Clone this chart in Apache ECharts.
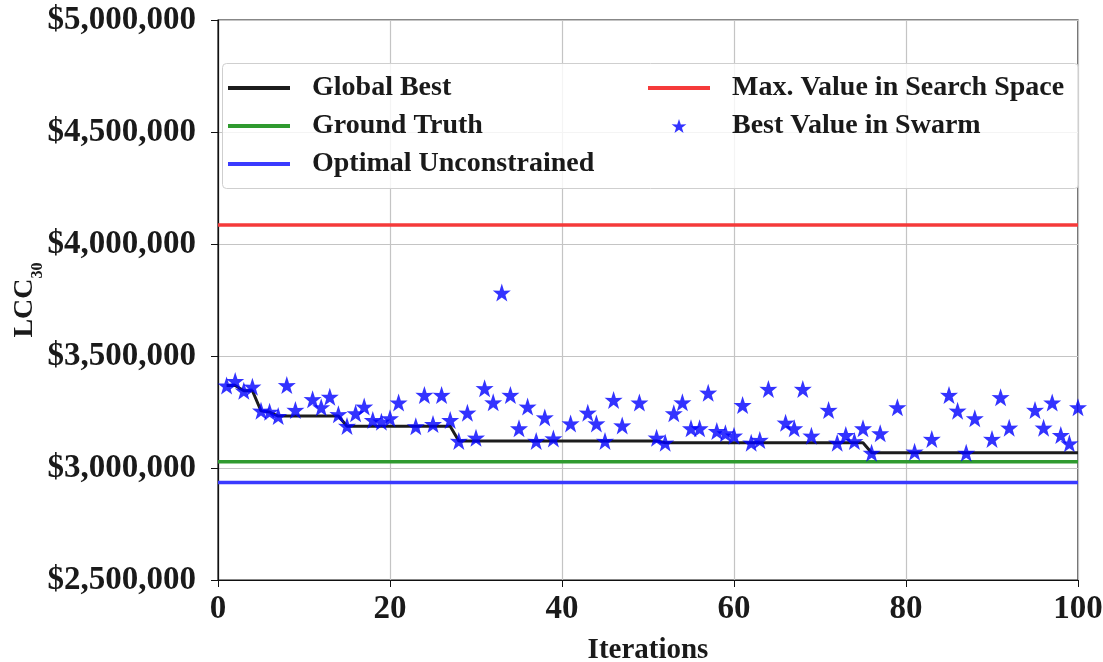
<!DOCTYPE html>
<html>
<head>
<meta charset="utf-8">
<script src="https://cdn.jsdelivr.net/npm/echarts@6/dist/echarts.min.js"></script>
<style>
  html, body { margin: 0; padding: 0; background: #fff; }
  #chart { width: 1103px; height: 662px; }
</style>
</head>
<body>
<div id="chart"></div>
<script>
// Iteration index 1..100
const iterations = Array.from({ length: 100 }, (_, k) => k + 1);

// Global best LCC after each iteration (step-down curve)
const globalBest = [
  3368000, 3368000, 3345000, 3345000, 3255000, 3250000, 3232000, 3232000, 3232000, 3232000,
  3232000, 3232000, 3232000, 3232000, 3186000, 3186000, 3186000, 3186000, 3186000, 3186000,
  3186000, 3186000, 3186000, 3186000, 3186000, 3186000, 3186000, 3121000, 3121000, 3121000,
  3121000, 3121000, 3121000, 3121000, 3121000, 3121000, 3121000, 3121000, 3121000, 3121000,
  3121000, 3121000, 3121000, 3121000, 3121000, 3121000, 3121000, 3121000, 3121000, 3121000,
  3121000, 3113000, 3113000, 3113000, 3113000, 3113000, 3113000, 3113000, 3113000, 3113000,
  3113000, 3113000, 3113000, 3113000, 3113000, 3113000, 3113000, 3113000, 3113000, 3113000,
  3113000, 3113000, 3113000, 3113000, 3113000, 3068000, 3068000, 3068000, 3068000, 3068000,
  3068000, 3068000, 3068000, 3068000, 3068000, 3068000, 3068000, 3068000, 3068000, 3068000,
  3068000, 3068000, 3068000, 3068000, 3068000, 3068000, 3068000, 3068000, 3068000, 3068000
];

// Best value found by the swarm at a given iteration
const swarmIter = [
  1, 2, 3, 4, 5, 6, 7, 8, 9, 11, 12, 13, 14, 15, 16, 17, 18, 19, 20, 21,
  23, 24, 25, 26, 27, 28, 29, 30, 31, 32, 33, 34, 35, 36, 37, 38, 39, 41, 43, 44,
  45, 46, 47, 49, 51, 52, 53, 54, 55, 56, 57, 58, 59, 60, 61, 62, 63, 64, 66, 67,
  68, 69, 71, 72, 73, 74, 75, 76, 77, 79, 81, 83, 85, 86, 87, 88, 90, 91, 92, 95,
  96, 97, 98, 99, 100
];
const swarmBest = [
  3368000, 3388000, 3345000, 3363000, 3256000, 3251000, 3232000, 3370000, 3259000, 3307000,
  3271000, 3318000, 3240000, 3188000, 3244000, 3274000, 3214000, 3207000, 3222000, 3292000,
  3186000, 3326000, 3196000, 3326000, 3214000, 3121000, 3247000, 3135000, 3356000, 3293000,
  3783000, 3326000, 3177000, 3274000, 3121000, 3226000, 3132000, 3199000, 3247000, 3199000,
  3121000, 3304000, 3190000, 3292000, 3135000, 3113000, 3244000, 3293000, 3177000, 3177000,
  3336000, 3165000, 3155000, 3144000, 3281000, 3113000, 3125000, 3353000, 3202000, 3177000,
  3353000, 3144000, 3259000, 3113000, 3147000, 3120000, 3177000, 3068000, 3155000, 3271000,
  3073000, 3130000, 3326000, 3256000, 3068000, 3222000, 3130000, 3316000, 3180000, 3259000,
  3180000, 3292000, 3147000, 3110000, 3271000
];

// Reference levels
const groundTruth = 3028000;
const optimalUnconstrained = 2935000;
const maxSearchSpace = 4085000;
const xSpan = [0, 100];

const xTicks = [0, 20, 40, 60, 80, 100];
const yTicks = [2500000, 3000000, 3500000, 4000000, 4500000, 5000000];

const serif = '"Liberation Serif", "Times New Roman", serif';
const starPath = 'path://M50,0 L61.8,35.3 L97.6,34.5 L69,56.7 L79.4,90.5 L50,70 L20.6,90.5 L31,56.7 L2.4,34.5 L38.2,35.3 Z';
const linePath = 'path://M0,0 L60,0 L60,4 L0,4 Z';

const chart = echarts.init(document.getElementById('chart'), null, { renderer: 'canvas' });

const flat = v => xSpan.map(x => [x, v]);

const legendText = {
  fontFamily: serif, fontWeight: 'bold', fontSize: 28, color: '#1a1a1a',
  lineHeight: 28, padding: [0, 0, 0, 17]
};

chart.setOption({
  animation: false,
  backgroundColor: '#fff',
  grid: {
    left: 218, right: 25, top: 20, bottom: 82,
    outerBoundsMode: 'none', containLabel: false,
    show: true, borderColor: '#111', borderWidth: 1.2, backgroundColor: 'transparent'
  },
  graphic: [{
    type: 'rect', left: 222, top: 63, z: 90,
    shape: { width: 856, height: 125, r: 4 },
    style: { fill: 'rgba(255,255,255,0.82)', stroke: '#cfcfcf', lineWidth: 1 }
  }],
  legend: [{
    left: 223, top: 69, orient: 'vertical', itemGap: 10, z: 100,
    itemWidth: 62, itemHeight: 14,
    textStyle: legendText,
    data: [
      { name: 'Global Best', icon: linePath },
      { name: 'Ground Truth', icon: linePath },
      { name: 'Optimal Unconstrained', icon: linePath }
    ]
  }, {
    left: 643, top: 69, orient: 'vertical', itemGap: 10, z: 100,
    itemWidth: 62, itemHeight: 14,
    textStyle: legendText,
    data: [
      { name: 'Max. Value in Search Space', icon: linePath },
      { name: 'Best Value in Swarm', icon: starPath, itemStyle: { color: '#0000ff' } }
    ]
  }],
  xAxis: {
    type: 'value', min: xTicks[0], max: xTicks[xTicks.length - 1], interval: 20,
    name: 'Iterations', nameLocation: 'middle', nameGap: 56, nameMoveOverlap: false,
    nameTextStyle: { fontFamily: serif, fontWeight: 'bold', fontSize: 29, color: '#1a1a1a' },
    axisLine: { show: true, lineStyle: { color: '#111', width: 1.2 } },
    axisTick: { show: true, inside: false, length: 7, lineStyle: { color: '#111' } },
    axisLabel: { margin: 13, fontFamily: serif, fontWeight: 'bold', fontSize: 33, color: '#1a1a1a' },
    splitLine: { show: true, lineStyle: { color: '#c4c4c4', width: 1.2 } }
  },
  yAxis: {
    type: 'value', min: yTicks[0], max: yTicks[yTicks.length - 1], interval: 500000,
    name: '{a|LCC}{b|30}', nameLocation: 'middle', nameRotate: 90, nameGap: 178,
    nameMoveOverlap: false,
    nameTextStyle: {
      padding: [0, 0, 0, 0],
      rich: {
        a: { fontFamily: serif, fontWeight: 'bold', fontSize: 28, color: '#1a1a1a', lineHeight: 30 },
        b: { fontFamily: serif, fontWeight: 'bold', fontSize: 16, color: '#1a1a1a', lineHeight: 30, verticalAlign: 'bottom', padding: [0, 0, -6, 0] }
      }
    },
    axisLine: { show: true, lineStyle: { color: '#111', width: 1.2 } },
    axisTick: { show: true, inside: false, length: 7, lineStyle: { color: '#111' } },
    axisLabel: {
      margin: 22, fontFamily: serif, fontWeight: 'bold', fontSize: 33, color: '#1a1a1a',
      formatter: v => '$' + v.toLocaleString('en-US')
    },
    splitLine: { show: true, lineStyle: { color: '#c4c4c4', width: 1.2 } }
  },
  series: [
    {
      name: 'Global Best', type: 'line', showSymbol: false, symbol: 'none', z: 5,
      data: iterations.map((it, k) => [it, globalBest[k]]),
      lineStyle: { color: '#1c1c1c', width: 3 }, itemStyle: { color: '#1c1c1c' }
    },
    {
      name: 'Ground Truth', type: 'line', showSymbol: false, symbol: 'none', z: 4,
      data: flat(groundTruth),
      lineStyle: { color: '#2f9a2f', width: 3.5 }, itemStyle: { color: '#2f9a2f' }
    },
    {
      name: 'Optimal Unconstrained', type: 'line', showSymbol: false, symbol: 'none', z: 4,
      data: flat(optimalUnconstrained),
      lineStyle: { color: '#3a3aff', width: 3.5 }, itemStyle: { color: '#3a3aff' }
    },
    {
      name: 'Max. Value in Search Space', type: 'line', showSymbol: false, symbol: 'none', z: 4,
      data: flat(maxSearchSpace),
      lineStyle: { color: '#f53a3a', width: 3.5 }, itemStyle: { color: '#f53a3a' }
    },
    {
      name: 'Best Value in Swarm', type: 'scatter', symbol: starPath, symbolSize: 18, z: 6,
      data: swarmIter.map((it, k) => [it, swarmBest[k]]),
      itemStyle: { color: '#0000ff' }
    }
  ]
});
</script>
</body>
</html>
